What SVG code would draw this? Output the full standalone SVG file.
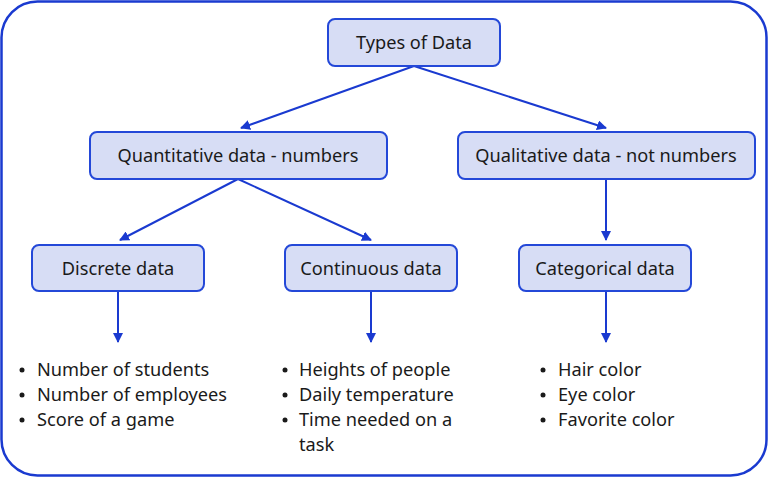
<svg xmlns="http://www.w3.org/2000/svg" width="768" height="477" viewBox="0 0 768 477">
<style>
.n rect{fill:#d7ddf5;stroke:#2448d8;stroke-width:2}
text{font-family:"Noto Sans","Open Sans",sans-serif;font-size:18.2px;fill:#1a1a1a}
.c{text-anchor:middle}
.l{stroke:#1a3ad0;stroke-width:2;fill:none;marker-end:url(#a)}
</style>
<defs><marker id="a" markerWidth="10" markerHeight="10" refX="9" refY="5" orient="auto" markerUnits="userSpaceOnUse"><path d="M0,0L10,5L0,10z" fill="#1a3ad0"/></marker></defs>
<rect x="1.5" y="1.5" width="765" height="474" rx="36" fill="#fff" stroke="#1a3ad0" stroke-width="2.5"/>
<g id="connectors">
<path class="l" d="M414,66L241,128"/>
<path class="l" d="M414,66L606,128"/>
<path class="l" d="M238,179L120,240"/>
<path class="l" d="M238,179L371,240"/>
<path class="l" d="M606,179V240"/>
<path class="l" d="M118,291V342"/>
<path class="l" d="M371,291V342"/>
<path class="l" d="M606,291V342"/>
</g>
<g id="types" class="n"><rect x="328" y="19" width="172" height="47" rx="7"/><text class="c" x="414" y="49">Types of Data</text></g>
<g id="quant" class="n"><rect x="90" y="132" width="297" height="47" rx="7"/><text class="c" x="238" y="162">Quantitative data - numbers</text></g>
<g id="qual" class="n"><rect x="458" y="132" width="297" height="47" rx="7"/><text class="c" x="606" y="162">Qualitative data - not numbers</text></g>
<g id="discrete" class="n"><rect x="32" y="245" width="172" height="46" rx="7"/><text class="c" x="118" y="275">Discrete data</text></g>
<g id="continuous" class="n"><rect x="285" y="245" width="172" height="46" rx="7"/><text class="c" x="371" y="275">Continuous data</text></g>
<g id="categorical" class="n"><rect x="519" y="245" width="172" height="46" rx="7"/><text class="c" x="605" y="275">Categorical data</text></g>
<g id="list1" fill="#1a1a1a">
<circle cx="22" cy="370" r="2.5"/><circle cx="22" cy="395" r="2.5"/><circle cx="22" cy="420" r="2.5"/>
<text x="37" y="376">Number of students</text><text x="37" y="401">Number of employees</text><text x="37" y="426">Score of a game</text>
</g>
<g id="list2" fill="#1a1a1a">
<circle cx="285" cy="370" r="2.5"/><circle cx="285" cy="395" r="2.5"/><circle cx="285" cy="420" r="2.5"/>
<text x="299" y="376">Heights of people</text><text x="299" y="401">Daily temperature</text><text x="299" y="426">Time needed on a</text><text x="299" y="451">task</text>
</g>
<g id="list3" fill="#1a1a1a">
<circle cx="543" cy="370" r="2.5"/><circle cx="543" cy="395" r="2.5"/><circle cx="543" cy="420" r="2.5"/>
<text x="558" y="376">Hair color</text><text x="558" y="401">Eye color</text><text x="558" y="426">Favorite color</text>
</g>
</svg>
